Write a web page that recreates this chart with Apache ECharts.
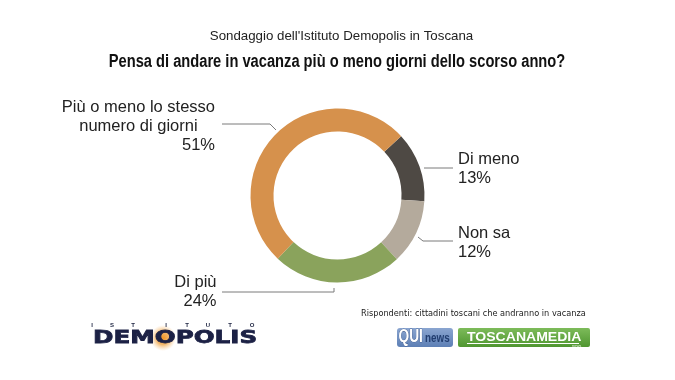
<!DOCTYPE html>
<html><head><meta charset="utf-8">
<script src="https://cdn.jsdelivr.net/npm/echarts@6/dist/echarts.min.js"></script>
<style>html,body{margin:0;padding:0;background:#fff}#c{width:675px;height:380px}</style>
</head><body><div id="c"></div>
<script>
const categories = ["Di meno", "Non sa", "Di più", "Più o meno lo stesso numero di giorni"];
const values = [13, 12, 24, 51];
const colors = ["#4e4944", "#b4aa9c", "#8aa35c", "#d6914c"];

const chart = echarts.init(document.getElementById('c'), null, {renderer: 'canvas'});

const labelLayouts = [
  {x: 458, y: 169, align: 'left', pts: [[424,168],[440,168],[453,168]]},
  {x: 458, y: 243, align: 'left', pts: [[418,237],[423,241],[453,241]]},
  {x: 216.5, y: 292, align: 'right', pts: [[334,288],[334,292],[222,292]]},
  {x: 215, y: 126.5, align: 'right', pts: [[222,124],[270,124],[276,130]]}
];

const labelFont = 'Liberation Sans, Arial, Helvetica, sans-serif';

const option = {
  backgroundColor: '#ffffff',
  animation: false,
  title: [
    {text: "Sondaggio dell'Istituto Demopolis in Toscana", left: 336.5, top: 25, textAlign: 'center',
     textStyle: {fontFamily: labelFont, fontWeight: 'normal', fontSize: 13.3, color: '#222'}}
  ],
  series: [{
    type: 'pie',
    center: [337.5, 195.5],
    radius: [64, 87],
    startAngle: 43,
    clockwise: true,
    avoidLabelOverlap: false,
    data: categories.map((c, i) => ({name: c, value: values[i], itemStyle: {color: colors[i]}})),
    label: {
      show: true,
      fontFamily: labelFont,
      fontSize: 16.5,
      lineHeight: 19,
      color: '#222',
      formatter: function (p) {
        if (p.dataIndex === 3) {
          return '{a|Più o meno lo stesso}\n{a|numero di giorni}\n{b|' + p.value + '%}';
        }
        return p.name + '\n' + p.value + '%';
      },
      rich: {
        a: {align: 'center', fontFamily: labelFont, fontSize: 16.5, lineHeight: 19, color: '#222'},
        b: {align: 'right', fontFamily: labelFont, fontSize: 16.5, lineHeight: 19, color: '#222'}
      }
    },
    labelLine: {show: true, lineStyle: {color: '#7a7a7a', width: 1}},
    labelLayout: function (params) {
      const L = labelLayouts[params.dataIndex];
      return {x: L.x, y: L.y, align: L.align, verticalAlign: 'middle', labelLinePoints: L.pts};
    }
  }],
  graphic: [
    {type: 'text', x: 337, y: 62, scaleX: 0.815, style: {text: 'Pensa di andare in vacanza più o meno giorni dello scorso anno?', font: 'bold 18px Liberation Sans, Arial, sans-serif', fill: '#111', align: 'center', verticalAlign: 'middle'}},
    {type: 'text', left: 361, top: 309.5, style: {text: 'Rispondenti: cittadini toscani che andranno in vacanza', font: '8.2px DejaVu Sans, Verdana, sans-serif', fill: '#222'}},
    // Demopolis logo
    {type: 'circle', shape: {cx: 163, cy: 338, r: 13}, style: {fill: {type: 'radial', x: 0.5, y: 0.5, r: 0.5, colorStops: [{offset: 0, color: 'rgba(240,150,40,1)'}, {offset: 0.5, color: 'rgba(240,165,70,0.8)'}, {offset: 1, color: 'rgba(250,200,140,0)'}]}}},
    ...['I','S','T','I','T','U','T','O'].map((ch, i) => ({type: 'text', x: [92,112,133,166,187,208,230,252][i], y: 322, style: {text: ch, font: 'bold 6px Liberation Sans, sans-serif', fill: '#1c2340', align: 'center'}})),
    {type: 'text', x: 93, y: 329, scaleX: 1.33, style: {text: 'DEMOPOLIS', font: 'bold 18.5px DejaVu Sans, sans-serif', fill: '#1c2145', stroke: '#1c2145', lineWidth: 0.8}},
    // QUI news logo
    {type: 'rect', shape: {x: 397, y: 328, width: 56, height: 19, r: 3}, style: {fill: {type: 'linear', x: 0, y: 0, x2: 0, y2: 1, colorStops: [{offset: 0, color: '#8aa5d0'}, {offset: 1, color: '#5d7fb5'}]}}},
    {type: 'text', x: 398.5, y: 327.5, scaleX: 0.72, style: {text: 'QUI', font: 'bold 19px Liberation Sans, sans-serif', fill: '#fff', stroke: '#2c4677', lineWidth: 0.6}},
    {type: 'text', x: 425, y: 332.5, scaleX: 0.82, style: {text: 'news', font: 'bold 12px Liberation Sans, sans-serif', fill: '#223e70'}},
    // Toscanamedia logo
    {type: 'rect', shape: {x: 458, y: 328, width: 132, height: 19, r: 2}, style: {fill: {type: 'linear', x: 0, y: 0, x2: 0, y2: 1, colorStops: [{offset: 0, color: '#7dbb5a'}, {offset: 1, color: '#4f9630'}]}}},
    {type: 'text', x: 467, y: 330, scaleX: 1.04, style: {text: 'TOSCANAMEDIA', font: 'bold 13.5px Liberation Sans, sans-serif', fill: '#fff'}},
    {type: 'rect', shape: {x: 467, y: 343, width: 112, height: 1}, style: {fill: '#fff'}},
    {type: 'text', x: 572, y: 343.5, style: {text: 'news', font: '4px Liberation Sans, sans-serif', fill: '#e8f4e0'}}
  ]
};
chart.setOption(option);
</script>
</body></html>
